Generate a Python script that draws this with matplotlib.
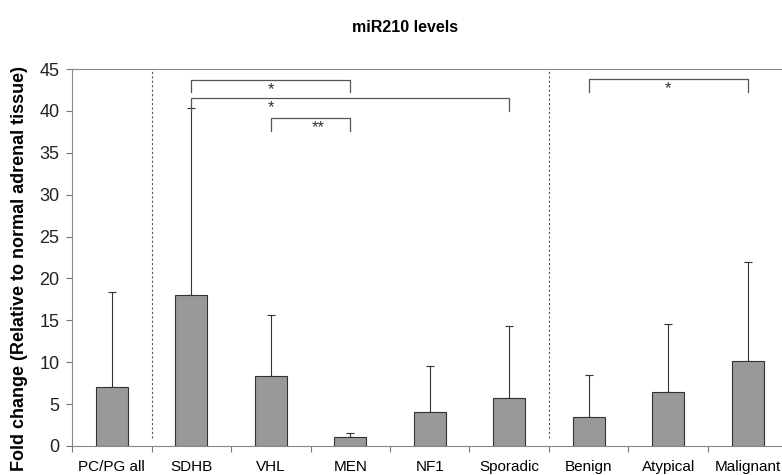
import numpy as np
import matplotlib.pyplot as plt

plt.rcParams["font.family"] = ["Liberation Sans", "DejaVu Sans"]

# miR210 fold change per group
groups = ["PC/PG all", "SDHB", "VHL", "MEN", "NF1", "Sporadic", "Benign", "Atypical", "Malignant"]
means = [7.0, 18.0, 8.4, 1.1, 4.1, 5.7, 3.5, 6.4, 10.2]
sd = [11.4, 22.3, 7.2, 0.4, 5.4, 8.6, 5.0, 8.2, 11.8]

# significance brackets: (from, to, line y, label, label x)
brackets = [(1, 3, 43.7, "*", 2.0),
            (1, 5, 41.5, "*", 2.0),
            (2, 3, 39.1, "**", 2.6),
            (6, 8, 43.8, "*", 7.0)]

x = np.arange(len(groups))

fig = plt.figure(figsize=(7.82, 4.75), dpi=100)
ax = fig.add_axes([72 / 782, (475 - 446) / 475, 715.5 / 782, 377 / 475])

ax.bar(x, means, width=0.4, color="#999999", edgecolor="#333333", linewidth=0.8, zorder=2)
ax.errorbar(x, means, yerr=[np.zeros(len(sd)), sd], fmt="none", ecolor="#333333",
            elinewidth=0.8, capsize=3, capthick=0.8, zorder=1)

# group separators
for xs in [0.5, 5.5]:
    ax.plot([xs, xs], [1, 45], color="#555555", linestyle=(0, (2, 2)), linewidth=0.8)

# brackets
for a, b, y, lab, lx in brackets:
    drop = 1.5
    ax.plot([a, a, b, b], [y - drop, y, y, y - drop], color="#555555", linewidth=0.9)
    ax.text(lx, y - 0.25, lab, ha="center", va="top", fontsize=12, color="#333333")

ax.set_xlim(-0.5, len(groups) - 0.5)
ax.set_ylim(0, 45)
ax.set_yticks(range(0, 46, 5))
ax.tick_params(axis="y", labelsize=13, direction="out", length=4, color="#777777",
               labelcolor="#222222", pad=5)

ax.set_xticks(np.arange(-0.5, len(groups), 1))
ax.set_xticklabels([])
ax.set_xticks(x, minor=True)
ax.set_xticklabels(groups, minor=True, fontsize=11)
ax.tick_params(axis="x", which="major", direction="out", length=4, color="#777777")
ax.tick_params(axis="x", which="minor", length=0, pad=10)

for s in ["left", "bottom", "top"]:
    ax.spines[s].set_color("#888888")
ax.spines["right"].set_visible(False)

ax.set_ylabel("Fold change (Relative to normal adrenal tissue)", fontsize=13, fontweight="bold")
ax.yaxis.set_label_coords(-0.062, 0.47)
fig.text(405 / 782, 1 - 27 / 475, "miR210 levels", ha="center", va="center", fontsize=11.5, fontweight="bold")

fig.savefig("out.png", dpi=100)
